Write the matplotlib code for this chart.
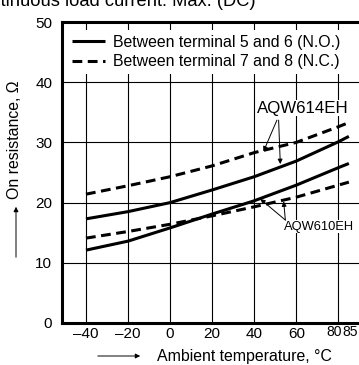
import matplotlib
matplotlib.use("Agg")
import matplotlib.pyplot as plt
from matplotlib.patches import FancyArrowPatch
from matplotlib.transforms import blended_transform_factory

plt.rcParams["font.family"] = ["Liberation Sans", "DejaVu Sans"]

# ambient temperature, degC
temps = [-40, -20, 0, 20, 40, 60, 80, 85]
# on resistance, ohm
aqw614_no = [17.3, 18.5, 20.0, 22.1, 24.3, 26.9, 30.1, 31.0]
aqw614_nc = [21.4, 22.8, 24.3, 26.1, 28.3, 30.0, 32.6, 33.3]
aqw610_no = [12.1, 13.6, 15.8, 18.1, 20.3, 22.9, 25.8, 26.5]
aqw610_nc = [14.1, 15.2, 16.4, 17.8, 19.3, 20.9, 22.9, 23.4]

x_ticks = [-40, -20, 0, 20, 40, 60, 80]
x_labels = ["\u201340", "\u201320", "0", "20", "40", "60", ""]
y_ticks = [0, 10, 20, 30, 40, 50]

fig = plt.figure(figsize=(3.59, 3.65), dpi=100)
ax = fig.add_axes([62 / 359, 42 / 365, 310 / 359, 301 / 365])

lw = 2.2
dash = (0, (3.2, 1.8))
ax.plot(temps, aqw614_no, color="black", lw=lw, solid_capstyle="butt",
        label="Between terminal 5 and 6 (N.O.)")
ax.plot(temps, aqw614_nc, color="black", lw=lw, ls=dash, dash_capstyle="butt",
        label="Between terminal 7 and 8 (N.C.)")
ax.plot(temps, aqw610_no, color="black", lw=lw, solid_capstyle="butt")
ax.plot(temps, aqw610_nc, color="black", lw=lw, ls=dash, dash_capstyle="butt")

ax.set_xlim(-51.4, 96)
ax.set_ylim(0, 50)
ax.set_xticks(x_ticks)
ax.set_xticklabels(x_labels)
ax.set_yticks(y_ticks)
ax.tick_params(length=0, labelsize=11)
ax.tick_params(axis="x", pad=3)
ax.tick_params(axis="y", pad=7)
ax.grid(True, color="black", lw=0.8)
ax.set_axisbelow(True)

for side in ("left", "bottom", "top"):
    ax.spines[side].set_linewidth(2.2)
ax.spines["right"].set_visible(False)

# 80 and 85 labels are squeezed together under the last gridline
lab_tr = blended_transform_factory(ax.transData, fig.transFigure)
ax.text(78.1, 1 - 332 / 365, "80", transform=lab_tr, ha="center",
        va="center", fontsize=10)
ax.text(85.6, 1 - 332 / 365, "85", transform=lab_tr, ha="center",
        va="center", fontsize=10)

leg = ax.legend(loc="upper left", bbox_to_anchor=(0.016, 0.974), fontsize=11.4,
                handlelength=2.1, handletextpad=0.5, labelspacing=0.3,
                frameon=True, fancybox=False, borderpad=0.3, borderaxespad=0)
leg.get_frame().set_edgecolor("none")
leg.get_frame().set_facecolor("white")
leg.get_frame().set_alpha(1)

arrow = dict(arrowstyle="-|>", color="black", lw=0.7, mutation_scale=7,
             shrinkA=0, shrinkB=0)
ax.text(63.3, 35.7, "AQW614EH", ha="center", va="center", fontsize=12.2,
        bbox=dict(facecolor="white", edgecolor="none", pad=0.5))
ax.annotate("", xy=(44.4, 28.5), xytext=(50.8, 33.7), arrowprops=arrow)
ax.annotate("", xy=(52.4, 26.4), xytext=(51.6, 33.7), arrowprops=arrow)

ax.text(71.0, 16.0, "AQW610EH", ha="center", va="center", fontsize=9.3,
        bbox=dict(facecolor="white", edgecolor="none", pad=0.5))
ax.annotate("", xy=(42.9, 20.6), xytext=(54.8, 17.1), arrowprops=arrow)
ax.annotate("", xy=(54.0, 20.2), xytext=(54.8, 17.1), arrowprops=arrow)

fig.text(256 / 359, 1 - 1 / 365, "Continuous load current: Max. (DC)",
         ha="right", va="center", fontsize=13.2)

fig.text(15 / 359, 1 - 140 / 365, "On resistance, \u03a9", rotation=90,
         ha="center", va="center", fontsize=11.4)
fig.add_artist(FancyArrowPatch(
    (16 / 359, 1 - 260 / 365), (16 / 359, 1 - 204 / 365),
    transform=fig.transFigure, arrowstyle="-|>", mutation_scale=7,
    lw=0.7, color="black"))

fig.text(157 / 359, 1 - 357 / 365, "Ambient temperature, \u00b0C",
         ha="left", va="center", fontsize=11.4)
fig.add_artist(FancyArrowPatch(
    (95 / 359, 1 - 356 / 365), (143 / 359, 1 - 356 / 365),
    transform=fig.transFigure, arrowstyle="-|>", mutation_scale=7,
    lw=0.7, color="black"))

fig.savefig("out.png", dpi=100)
